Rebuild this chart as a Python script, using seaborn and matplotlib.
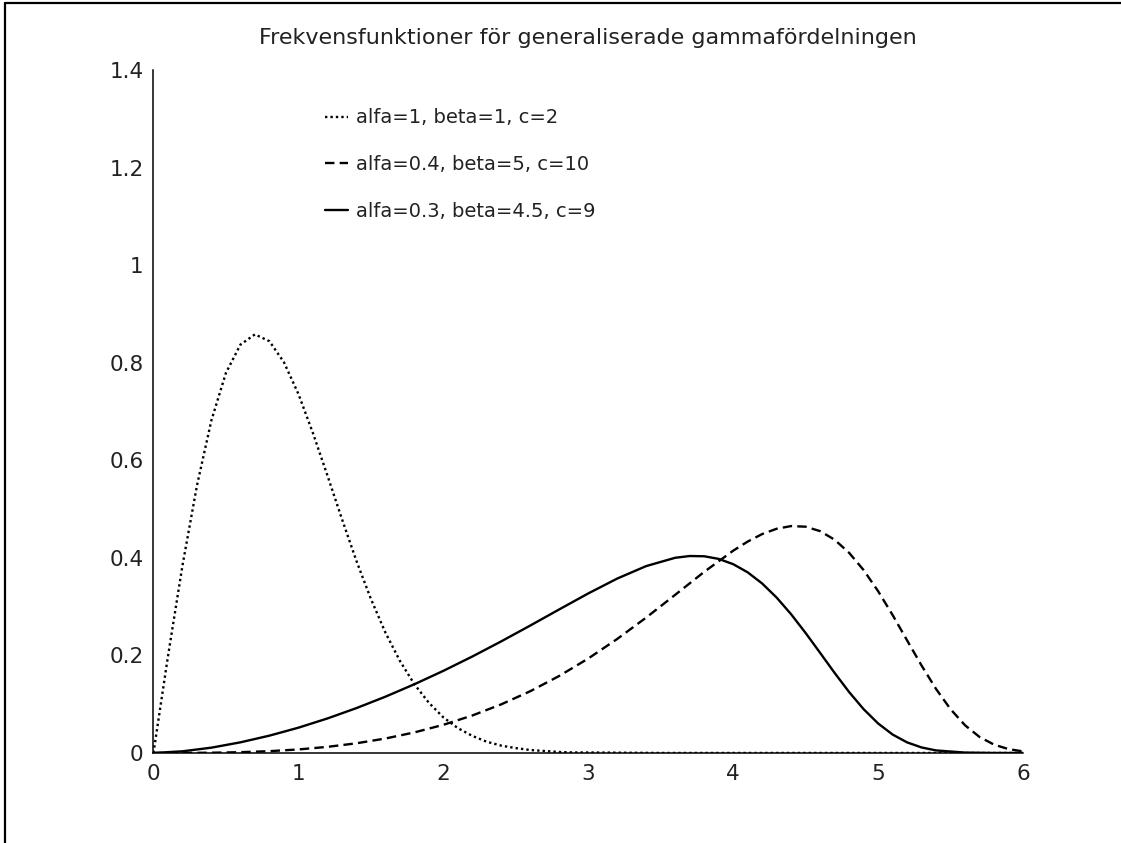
import matplotlib
matplotlib.use("Agg")
import matplotlib.pyplot as plt
from matplotlib.lines import Line2D
import seaborn as sns
import pandas as pd

# ---- data ----
x_dot = [0.0, 0.1, 0.2, 0.3, 0.4, 0.5, 0.6, 0.7, 0.8, 0.9, 1.0, 1.1, 1.2, 1.3, 1.4,
         1.5, 1.6, 1.7, 1.8, 1.9, 2.0, 2.1, 2.2, 2.3, 2.4, 2.5, 2.6, 2.7, 2.8, 2.9,
         3.0, 3.5, 4.0, 4.5, 5.0, 5.5, 6.0]
y_dot = [0.0, 0.198, 0.384, 0.548, 0.682, 0.779, 0.837, 0.858, 0.844, 0.801, 0.736,
         0.656, 0.569, 0.480, 0.394, 0.316, 0.247, 0.189, 0.141, 0.103, 0.073,
         0.051, 0.035, 0.023, 0.015, 0.010, 0.006, 0.004, 0.002, 0.001,
         0.001, 0.0, 0.0, 0.0, 0.0, 0.0, 0.0]

x_dash = [0.0, 0.2, 0.4, 0.6, 0.8, 1.0, 1.2, 1.4, 1.6, 1.8, 2.0, 2.2, 2.4, 2.6, 2.8,
          3.0, 3.2, 3.4, 3.6, 3.8, 4.0, 4.1, 4.2, 4.3, 4.4, 4.5, 4.6, 4.7, 4.8, 4.9,
          5.0, 5.1, 5.2, 5.3, 5.4, 5.5, 5.6, 5.7, 5.8, 5.9, 6.0]
y_dash = [0.0, 0.0001, 0.0005, 0.0016, 0.0037, 0.0072, 0.0125, 0.0198, 0.0296, 0.0421,
          0.0577, 0.0768, 0.0997, 0.1266, 0.1579, 0.1936, 0.2337, 0.2776, 0.3242,
          0.3712, 0.4146, 0.4333, 0.4487, 0.4596, 0.4651, 0.4638, 0.4547, 0.4371,
          0.4103, 0.3749, 0.3317, 0.2828, 0.2308, 0.1792, 0.1311, 0.0897, 0.0567,
          0.0328, 0.0171, 0.0079, 0.0032]

x_solid = [0.0, 0.2, 0.4, 0.6, 0.8, 1.0, 1.2, 1.4, 1.6, 1.8, 2.0, 2.2, 2.4, 2.6, 2.8,
           3.0, 3.2, 3.4, 3.6, 3.7, 3.8, 3.9, 4.0, 4.1, 4.2, 4.3, 4.4, 4.5, 4.6, 4.7,
           4.8, 4.9, 5.0, 5.1, 5.2, 5.3, 5.4, 5.6, 5.8, 6.0]
y_solid = [0.0, 0.0034, 0.0109, 0.0218, 0.0355, 0.0518, 0.0707, 0.0919, 0.1153, 0.1408,
           0.1683, 0.1977, 0.2288, 0.2612, 0.2943, 0.3270, 0.3575, 0.3831, 0.4001,
           0.4037, 0.4032, 0.3978, 0.3870, 0.3703, 0.3474, 0.3185, 0.2843, 0.2459,
           0.2052, 0.1641, 0.1249, 0.0898, 0.0605, 0.0378, 0.0217, 0.0113, 0.0052,
           0.0008, 0.0, 0.0]

labels = ["alfa=1, beta=1, c=2", "alfa=0.4, beta=5, c=10", "alfa=0.3, beta=4.5, c=9"]
title = "Frekvensfunktioner för generaliserade gammafördelningen"
x_ticks = [0, 1, 2, 3, 4, 5, 6]
y_ticks = [0, 0.2, 0.4, 0.6, 0.8, 1.0, 1.2, 1.4]
y_tick_labels = ["0", "0.2", "0.4", "0.6", "0.8", "1", "1.2", "1.4"]

sns.set_theme(style="white")
plt.rcParams["font.family"] = ["DejaVu Sans"]

fig = plt.figure(figsize=(11.21, 8.43), dpi=100)
fig.patch.set_facecolor("white")
ax = fig.add_axes([0.1369, 0.1068, 0.9126 - 0.1369, 0.9170 - 0.1068])

df_dot = pd.DataFrame({"x": x_dot, "y": y_dot})
df_dash = pd.DataFrame({"x": x_dash, "y": y_dash})
df_solid = pd.DataFrame({"x": x_solid, "y": y_solid})

lw = 1.7
dot_style = (0, (1.0, 1.3))
dash_style = (0, (4.0, 2.2))
sns.lineplot(data=df_dot, x="x", y="y", ax=ax, color="black", linewidth=lw,
             linestyle=dot_style, estimator=None, sort=False)
sns.lineplot(data=df_dash, x="x", y="y", ax=ax, color="black", linewidth=lw,
             linestyle=dash_style, estimator=None, sort=False)
sns.lineplot(data=df_solid, x="x", y="y", ax=ax, color="black", linewidth=lw,
             linestyle="-", estimator=None, sort=False)

ax.set_xlim(0, 6)
ax.set_ylim(0, 1.4)
ax.set_xticks(x_ticks)
ax.set_xticklabels([str(t) for t in x_ticks])
ax.set_yticks(y_ticks)
ax.set_yticklabels(y_tick_labels)
ax.set_xlabel("")
ax.set_ylabel("")
for s in ["top", "right"]:
    ax.spines[s].set_visible(False)
for s in ["left", "bottom"]:
    ax.spines[s].set_color("black")
    ax.spines[s].set_linewidth(1.1)
ax.tick_params(axis="both", direction="in", length=8, width=1.1, color="black",
               labelsize=15.5, labelcolor="#222222")
ax.tick_params(axis="x", pad=8)
ax.tick_params(axis="y", pad=7)
ax.set_facecolor("white")

ax.set_title(title, fontsize=16, color="#222222", pad=19)

handles = [
    Line2D([], [], color="black", linewidth=lw, linestyle=dot_style),
    Line2D([], [], color="black", linewidth=lw, linestyle=dash_style),
    Line2D([], [], color="black", linewidth=lw, linestyle="-"),
]
leg = ax.legend(handles, labels, loc="upper left", bbox_to_anchor=(0.188, 0.955),
                frameon=False, fontsize=14, handlelength=1.2, handletextpad=0.4,
                labelspacing=1.43, borderaxespad=0)
for t in leg.get_texts():
    t.set_color("#222222")

# figure border (top and left)
fig.add_artist(Line2D([5 / 1121, 1.0], [1 - 3 / 843, 1 - 3 / 843],
                      transform=fig.transFigure, color="black", linewidth=1.6))
fig.add_artist(Line2D([5 / 1121, 5 / 1121], [0.0, 1 - 3 / 843],
                      transform=fig.transFigure, color="black", linewidth=1.6))

fig.savefig("out.png", dpi=100, facecolor="white")
